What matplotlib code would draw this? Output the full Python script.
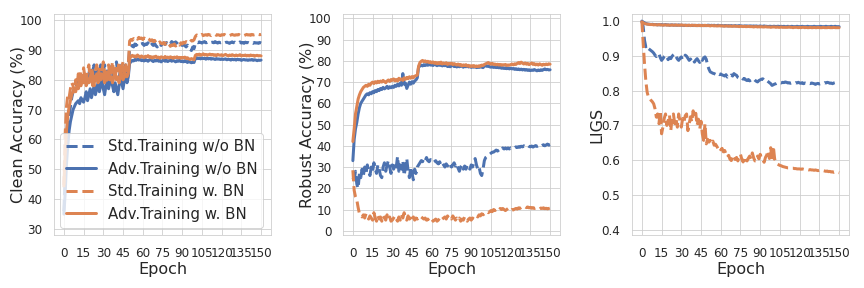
import numpy as np
import matplotlib
matplotlib.use('Agg')
import matplotlib.pyplot as plt
import seaborn as sns

# per-epoch values (epochs 0..150)
epochs = np.arange(151)

# Clean accuracy (%)
clean_std_nobn = [36, 48, 58, 64, 68, 71, 74, 76, 77, 79,
    78, 80, 81, 79, 82, 80, 83, 81, 78, 82,
    84, 80, 83, 85, 81, 79, 84, 82, 85, 80,
    83, 85, 81, 84, 79, 82, 85, 83, 80, 84,
    86, 82, 80, 84, 85, 81, 83, 85, 82, 84,
    90.5, 91, 91.5, 91, 92, 91.5, 92, 92.3, 91.8, 92,
    92.2, 91.5, 92, 91.8, 92.4, 91.6, 91.2, 92, 91.5, 92.2,
    91.4, 91, 91.8, 92.3, 91.5, 92, 92.4, 91.8, 92.5, 92,
    92.6, 92.1, 92.8, 92.4, 92.2, 92.7, 92.3, 91.8, 91.2, 91.9,
    91.5, 92, 91.4, 91, 91.6, 90.8, 90.2, 89.8, 91, 90.4,
    92.2, 92.6, 92.4, 92.7, 92.5, 92.3, 92.6, 92.8, 92.4, 92.5,
    92.7, 92.3, 92.5, 92.6, 92.4, 92.8, 92.5, 92.3, 92.6, 92.4,
    92.5, 92.7, 92.3, 92.5, 92.6, 92.4, 92.2, 92.5, 92.7, 92.4,
    92.6, 92.3, 92.5, 92.4, 92.7, 92.3, 92.5, 92.2, 92.6, 92.4,
    92.5, 92.3, 92.6, 92.4, 92.2, 92.5, 92.3, 92.4, 92.2, 92.5,
    92.3]
clean_adv_nobn = [35, 42, 52, 58, 63, 66, 68, 70, 71, 72,
    72.5, 73, 72, 74, 73, 72.5, 74, 76, 73, 75,
    77, 74, 76, 78, 75, 77, 79, 76, 78, 80,
    77, 75, 78, 80, 77, 79, 81, 78, 76, 79,
    77, 75, 78, 81, 79, 77, 80, 82, 79, 81,
    85.5, 86, 86.5, 86.3, 86.8, 86.5, 87, 86.6, 86.9, 86.4,
    86.7, 86.3, 86.8, 86.5, 86.2, 86.6, 86.9, 86.4, 86.1, 86.5,
    86.3, 86.7, 86.2, 86.5, 86.0, 86.4, 86.6, 86.2, 86.5, 86.1,
    86.4, 86.6, 86.2, 86.5, 86.3, 86.0, 86.4, 86.2, 86.5, 86.1,
    86.3, 86.0, 86.4, 86.1, 85.8, 86.2, 85.9, 85.7, 86.0, 85.8,
    87.2, 87.4, 87.1, 87.3, 87.0, 87.3, 87.1, 87.2, 86.9, 87.2,
    87.0, 87.2, 86.9, 87.1, 87.0, 86.8, 87.1, 86.9, 87.0, 86.8,
    87.0, 86.8, 86.9, 87.0, 86.7, 86.9, 86.8, 86.6, 86.9, 86.7,
    86.8, 86.6, 86.9, 86.7, 86.8, 86.5, 86.7, 86.8, 86.6, 86.7,
    86.5, 86.7, 86.6, 86.8, 86.5, 86.7, 86.6, 86.4, 86.6, 86.5,
    86.6]
clean_std_bn = [44, 62, 71, 75, 74, 77, 79, 78, 76, 80,
    78, 82, 79, 83, 80, 84, 81, 79, 83, 85,
    80, 84, 82, 78, 83, 85, 81, 84, 80, 83,
    86, 82, 79, 84, 85, 81, 83, 86, 82, 80,
    85, 83, 86, 81, 84, 86, 82, 85, 83, 85,
    93, 93.5, 93.2, 93.8, 93.4, 94, 93.6, 94.2, 93.8, 94,
    93.5, 94, 93.7, 93.3, 93.8, 93.5, 93, 93.4, 92.8, 93.2,
    92.5, 92.9, 92.3, 92.7, 92.2, 92, 92.5, 91.8, 92.3, 91.5,
    91.9, 91.2, 91.7, 91.5, 92, 91.3, 91.8, 92.2, 91.6, 92.4,
    92, 92.6, 92.3, 92.8, 92.5, 93, 92.7, 93.2, 93, 93.4,
    94.5, 95, 94.8, 95.1, 94.9, 95.2, 94.8, 95, 95.1, 94.9,
    95.2, 95, 94.8, 95.1, 95, 95.2, 94.9, 95.1, 95, 94.8,
    95.1, 95, 95.2, 94.9, 95, 95.1, 94.8, 95, 95.2, 95,
    94.9, 95.1, 95, 95.2, 94.9, 95, 95.1, 94.8, 95, 95.2,
    95, 95.1, 94.9, 95.2, 95, 95.1, 95.3, 95, 95.2, 95.1,
    95.2]
clean_adv_bn = [45, 55, 63, 68, 71, 73, 75, 76, 77, 76,
    78, 77, 79, 78, 80, 79, 81, 78, 80, 79,
    81, 80, 78, 81, 80, 82, 79, 81, 80, 82,
    81, 79, 81, 80, 82, 80, 81, 79, 81, 82,
    80, 81, 79, 81, 82, 80, 81, 82, 81, 82,
    87, 87.8, 88.2, 87.8, 88, 87.6, 88.3, 87.9, 87.5, 88,
    87.7, 87.4, 87.9, 87.6, 88.1, 87.5, 87.8, 87.3, 87.7, 87.5,
    87.9, 87.4, 87.6, 87.2, 87.7, 87.5, 87.3, 87.8, 87.4, 87.6,
    87.3, 87.7, 87.5, 87.2, 87.6, 87.4, 87.7, 87.3, 87.5, 87.2,
    87.5, 87.3, 87.6, 87.1, 87.4, 87.0, 86.8, 87.1, 86.9, 86.7,
    88.2, 88.5, 88.3, 88.6, 88.2, 88.4, 88.7, 88.3, 88.5, 88.2,
    88.4, 88.6, 88.3, 88.5, 88.2, 88.4, 88.1, 88.5, 88.3, 88.2,
    88.4, 88.1, 88.3, 88.5, 88.2, 88.0, 88.3, 88.1, 88.4, 88.2,
    88.0, 88.3, 88.1, 88.2, 88.4, 88.0, 88.2, 88.1, 88.3, 88.0,
    88.2, 88.0, 88.3, 88.1, 88.2, 87.9, 88.1, 88.2, 88.0, 88.1,
    88.0]

# Robust accuracy (%)
rob_std_nobn = [25, 24, 28, 22, 20, 27, 25, 29, 26, 30,
    27, 31, 28, 26, 30, 28, 32, 29, 27, 31,
    29, 26, 25, 30, 32, 28, 31, 33, 30, 27,
    31, 29, 32, 30, 35, 28, 31, 29, 33, 26,
    30, 34, 28, 25, 30, 27, 24, 29, 27, 30,
    31, 32, 33, 32.5, 34, 33, 34.5, 33, 32.5, 33.5,
    33, 32, 32.5, 33, 32, 31.5, 32.5, 31, 32, 31,
    30, 31.5, 30.5, 32, 31, 30, 31, 32, 30.5, 31.5,
    29.5, 28, 30, 31, 29, 30.5, 29, 31, 30, 29,
    31, 30, 32, 34, 31, 29, 30, 27, 26, 29,
    33, 34.5, 35, 35.5, 36, 36.5, 37, 37, 37.5, 38,
    37.5, 38, 38.5, 38, 39, 38.5, 39, 38.5, 39, 38.5,
    39, 38.8, 39.2, 39, 39.5, 39.2, 39.6, 39.3, 39.8, 39.5,
    40, 39.6, 39.8, 40.2, 39.7, 39.5, 39.9, 39.4, 39.8, 40.1,
    39.7, 40, 40.3, 39.8, 40.2, 40.5, 40, 40.4, 40.8, 40.3,
    40.5]
rob_adv_nobn = [33, 43, 48, 51, 55, 58, 60, 61, 62, 63,
    64, 64.5, 64, 65, 64.5, 65.5, 65, 66, 65.5, 66.5,
    66, 67, 66.5, 67.5, 66.8, 67.2, 68, 67, 67.8, 67.3,
    68, 67.5, 68.5, 68, 69, 68.2, 69.5, 68.5, 74, 69,
    69.5, 67, 68.5, 70, 69, 70.2, 69.5, 70.5, 71, 72,
    77.2, 77.5, 78, 77.6, 78.2, 77.8, 78.3, 77.9, 78.4, 78,
    78.2, 77.8, 78.5, 78.1, 77.7, 78.3, 77.9, 78.2, 77.6, 78,
    77.7, 78.1, 77.3, 77.8, 77.2, 77.6, 78, 77.3, 77.7, 77.1,
    77.5, 77.2, 77.8, 77.4, 77, 77.5, 77.2, 77.6, 77.1, 77.4,
    76.9, 77.3, 77.0, 77.4, 76.8, 77.2, 76.9, 77.3, 77.0, 76.8,
    77.5, 77.8, 77.4, 77.6, 77.2, 77.0, 77.3, 76.9, 77.1, 76.8,
    77.0, 76.7, 76.9, 76.5, 76.8, 76.4, 76.7, 76.3, 76.6, 76.2,
    76.5, 76.2, 76.4, 76.0, 76.3, 75.9, 76.2, 75.8, 76.1, 75.7,
    76.0, 75.6, 75.9, 75.5, 75.8, 75.4, 75.7, 75.5, 75.9, 75.6,
    75.3, 75.7, 75.4, 75.8, 75.5, 75.9, 76.2, 75.8, 76.0, 75.7,
    75.8]
rob_std_bn = [28.5, 19, 16, 14.5, 11, 8, 7, 6.5, 7.5, 6,
    8, 6.5, 5.5, 7, 6, 5, 8.5, 6, 4.5, 7,
    5.5, 6.5, 4.5, 7, 6, 5, 7.5, 5.5, 6.5, 4.5,
    5, 6, 7, 5.5, 4.5, 6.5, 5, 7.5, 6, 8.5,
    6.5, 5, 7, 5.5, 6, 4.5, 6.5, 5, 6, 5.5,
    6, 5.5, 6.5, 6, 5.5, 6, 5, 5.5, 4.5, 5,
    5.5, 4.5, 5, 5.5, 4.5, 5, 6, 5, 5.5, 6,
    6.5, 5.5, 7, 6, 6.5, 5.5, 7, 6, 5, 6,
    5, 6, 4.5, 5.5, 5, 6.5, 5.5, 4.5, 5.5, 6,
    5, 6, 5.5, 6.5, 7, 6.5, 7.5, 7, 8, 7.5,
    8, 8.5, 9, 8.5, 9, 9.5, 9, 10, 9.5, 10,
    10, 9.5, 10.5, 10, 10.5, 10, 9.5, 10, 10.5, 10,
    9.5, 10, 9.8, 10.2, 10.5, 10.2, 10.8, 10.5, 11, 11.2,
    11, 11.3, 10.9, 11.2, 10.8, 11, 10.6, 10.9, 10.5, 10.7,
    10.4, 10.6, 10.3, 10.7, 10.5, 10.8, 10.4, 10.6, 10.3, 10.5,
    10.7]
rob_adv_bn = [42, 48, 55, 58.5, 62, 64, 65.5, 66.5, 67.5, 68,
    68.5, 68, 69, 68.5, 69.5, 70, 69.3, 70.2, 69.6, 70.4,
    69.8, 70.5, 70, 70.8, 70.2, 69.7, 70.5, 71, 70.3, 71.2,
    70.8, 71.5, 70.6, 71.2, 70.5, 71.8, 71, 71.5, 70.8, 72,
    71.3, 72.2, 71.6, 72.5, 71.8, 72.6, 72, 72.8, 73, 73.3,
    77.5, 79.2, 79.8, 80.2, 79.6, 80, 79.4, 79.8, 79.2, 79.6,
    79, 79.5, 78.8, 79.3, 78.6, 79.2, 78.7, 79.4, 78.5, 79,
    78.6, 79.1, 78.3, 78.8, 78.5, 78.9, 78.2, 78.7, 78.4, 78,
    78.5, 77.9, 78.3, 77.6, 78.1, 77.8, 78.2, 77.5, 77.9, 77.3,
    77.7, 77.4, 77.8, 77.2, 77.6, 77.3, 77.7, 77.4, 78, 77.8,
    78.3, 78.6, 78.9, 79.2, 78.7, 78.4, 78.8, 78.3, 78.5, 78.1,
    78.4, 78, 78.3, 77.9, 78.2, 78, 78.3, 77.8, 78.1, 77.9,
    78.2, 78.5, 78.1, 78.6, 78.3, 78.8, 79.2, 78.7, 79.4, 78.9,
    78.5, 79, 78.4, 78.8, 78.2, 78.6, 79, 78.3, 78.7, 78.1,
    78.5, 78, 78.6, 78.2, 77.9, 78.4, 78.1, 78.5, 78.2, 78.6,
    78.4]

# LIGS
ligs_std_nobn = [1.0, 0.984, 0.945, 0.926, 0.93, 0.921, 0.918, 0.915, 0.912, 0.908,
    0.902, 0.898, 0.904, 0.906, 0.895, 0.887, 0.892, 0.898, 0.902, 0.896,
    0.889, 0.895, 0.892, 0.899, 0.903, 0.906, 0.898, 0.891, 0.887, 0.893,
    0.897, 0.889, 0.895, 0.902, 0.899, 0.893, 0.887, 0.891, 0.884, 0.889,
    0.882, 0.888, 0.892, 0.886, 0.881, 0.892, 0.887, 0.894, 0.897, 0.89,
    0.873, 0.862, 0.854, 0.852, 0.85, 0.849, 0.847, 0.851, 0.848, 0.846,
    0.848, 0.845, 0.844, 0.842, 0.846, 0.839, 0.843, 0.841, 0.845, 0.842,
    0.849, 0.846, 0.844, 0.838, 0.836, 0.834, 0.837, 0.833, 0.835, 0.831,
    0.829, 0.832, 0.828, 0.831, 0.834, 0.834, 0.83, 0.827, 0.825, 0.829,
    0.831, 0.833, 0.834, 0.83, 0.827, 0.829, 0.826, 0.823, 0.82, 0.815,
    0.817, 0.819, 0.82, 0.822, 0.821, 0.823, 0.822, 0.824, 0.823, 0.825,
    0.824, 0.822, 0.823, 0.821, 0.822, 0.82, 0.821, 0.823, 0.822, 0.824,
    0.822, 0.821, 0.823, 0.82, 0.822, 0.821, 0.819, 0.821, 0.82, 0.822,
    0.821, 0.82, 0.818, 0.82, 0.821, 0.819, 0.82, 0.822, 0.821, 0.823,
    0.822, 0.824, 0.823, 0.821, 0.822, 0.82, 0.822, 0.823, 0.824, 0.822,
    0.823]
ligs_adv_nobn = [1.0, 0.997, 0.995, 0.993, 0.992, 0.991, 0.991, 0.990, 0.991, 0.990,
    0.990, 0.990, 0.989, 0.990, 0.989, 0.990, 0.989, 0.989, 0.990, 0.989,
    0.989, 0.988, 0.989, 0.989, 0.988, 0.989, 0.988, 0.988, 0.989, 0.988,
    0.988, 0.988, 0.987, 0.988, 0.988, 0.987, 0.988, 0.987, 0.988, 0.987,
    0.988, 0.987, 0.987, 0.988, 0.987, 0.987, 0.988, 0.987, 0.987, 0.987,
    0.988, 0.988, 0.987, 0.988, 0.987, 0.988, 0.987, 0.987, 0.988, 0.987,
    0.987, 0.987, 0.986, 0.987, 0.987, 0.986, 0.987, 0.986, 0.987, 0.986,
    0.986, 0.987, 0.986, 0.986, 0.987, 0.986, 0.986, 0.985, 0.986, 0.986,
    0.986, 0.985, 0.986, 0.986, 0.985, 0.986, 0.985, 0.986, 0.985, 0.985,
    0.986, 0.985, 0.985, 0.986, 0.985, 0.985, 0.984, 0.985, 0.985, 0.984,
    0.985, 0.985, 0.984, 0.985, 0.985, 0.984, 0.985, 0.984, 0.985, 0.984,
    0.984, 0.985, 0.984, 0.984, 0.985, 0.984, 0.984, 0.984, 0.985, 0.984,
    0.984, 0.984, 0.985, 0.984, 0.984, 0.984, 0.985, 0.984, 0.984, 0.984,
    0.984, 0.985, 0.984, 0.984, 0.984, 0.984, 0.985, 0.984, 0.984, 0.984,
    0.985, 0.984, 0.984, 0.984, 0.985, 0.984, 0.984, 0.985, 0.984, 0.984,
    0.984]
ligs_std_bn = [1.0, 0.936, 0.878, 0.829, 0.796, 0.781, 0.778, 0.772, 0.768, 0.762,
    0.748, 0.724, 0.733, 0.705, 0.742, 0.676, 0.695, 0.72, 0.733, 0.7,
    0.714, 0.73, 0.685, 0.722, 0.733, 0.705, 0.718, 0.695, 0.733, 0.712,
    0.695, 0.72, 0.71, 0.728, 0.733, 0.685, 0.705, 0.725, 0.71, 0.742,
    0.722, 0.735, 0.7, 0.718, 0.69, 0.712, 0.675, 0.657, 0.705, 0.647,
    0.66, 0.652, 0.657, 0.648, 0.655, 0.643, 0.646, 0.64, 0.633, 0.638,
    0.63, 0.634, 0.624, 0.628, 0.618, 0.609, 0.614, 0.603, 0.599, 0.608,
    0.614, 0.602, 0.608, 0.598, 0.612, 0.617, 0.603, 0.595, 0.61, 0.6,
    0.598, 0.606, 0.612, 0.603, 0.621, 0.607, 0.598, 0.598, 0.612, 0.604,
    0.617, 0.605, 0.6, 0.594, 0.608, 0.615, 0.627, 0.605, 0.636, 0.598,
    0.64, 0.603, 0.595, 0.589, 0.587, 0.585, 0.584, 0.582, 0.581, 0.58,
    0.579, 0.578, 0.578, 0.577, 0.577, 0.577, 0.576, 0.576, 0.575, 0.575,
    0.575, 0.574, 0.575, 0.574, 0.573, 0.574, 0.573, 0.572, 0.573, 0.572,
    0.572, 0.571, 0.572, 0.571, 0.57, 0.571, 0.57, 0.569, 0.57, 0.569,
    0.568, 0.569, 0.567, 0.568, 0.566, 0.567, 0.565, 0.566, 0.564, 0.565,
    0.564]
ligs_adv_bn = [0.998, 0.995, 0.993, 0.992, 0.991, 0.991, 0.990, 0.990, 0.990, 0.989,
    0.990, 0.989, 0.989, 0.990, 0.989, 0.989, 0.988, 0.989, 0.989, 0.988,
    0.989, 0.988, 0.988, 0.989, 0.988, 0.988, 0.989, 0.988, 0.988, 0.988,
    0.989, 0.988, 0.988, 0.988, 0.987, 0.988, 0.988, 0.987, 0.988, 0.988,
    0.987, 0.988, 0.987, 0.987, 0.988, 0.987, 0.987, 0.987, 0.988, 0.987,
    0.987, 0.987, 0.986, 0.987, 0.987, 0.986, 0.987, 0.986, 0.986, 0.987,
    0.986, 0.986, 0.986, 0.985, 0.986, 0.986, 0.985, 0.986, 0.985, 0.985,
    0.986, 0.985, 0.985, 0.985, 0.984, 0.985, 0.985, 0.984, 0.985, 0.984,
    0.984, 0.985, 0.984, 0.984, 0.984, 0.983, 0.984, 0.984, 0.983, 0.984,
    0.983, 0.984, 0.983, 0.983, 0.984, 0.983, 0.983, 0.983, 0.982, 0.983,
    0.983, 0.983, 0.982, 0.983, 0.982, 0.982, 0.983, 0.982, 0.982, 0.982,
    0.982, 0.982, 0.983, 0.982, 0.982, 0.981, 0.982, 0.982, 0.982, 0.981,
    0.982, 0.981, 0.982, 0.982, 0.981, 0.982, 0.981, 0.981, 0.982, 0.981,
    0.981, 0.982, 0.981, 0.981, 0.982, 0.981, 0.981, 0.981, 0.982, 0.981,
    0.981, 0.981, 0.982, 0.981, 0.981, 0.981, 0.982, 0.981, 0.981, 0.981,
    0.981]

labels = ['Std.Training w/o BN', 'Adv.Training w/o BN',
          'Std.Training w. BN', 'Adv.Training w. BN']
xticks = np.arange(0, 151, 15)

sns.set_style('whitegrid')
blue, orange = sns.color_palette('deep')[0], sns.color_palette('deep')[1]
styles = [(blue, '--'), (blue, '-'), (orange, '--'), (orange, '-')]

panels = [
    ([clean_std_nobn, clean_adv_nobn, clean_std_bn, clean_adv_bn],
     'Clean Accuracy (%)', (28, 102), np.arange(30, 101, 10)),
    ([rob_std_nobn, rob_adv_nobn, rob_std_bn, rob_adv_bn],
     'Robust Accuracy (%)', (-2, 102), np.arange(0, 101, 10)),
    ([ligs_std_nobn, ligs_adv_nobn, ligs_std_bn, ligs_adv_bn],
     'LIGS', (0.385, 1.02), np.arange(0.4, 1.01, 0.1)),
]

fig, axes = plt.subplots(1, 3, figsize=(12, 4), dpi=72)
fig.subplots_adjust(left=0.0625, right=0.9826, top=0.951, bottom=0.184, wspace=0.332)

for ax, (series, ylab, ylim, yticks) in zip(axes, panels):
    for s, (c, ls), lab in zip(series, styles, labels):
        ax.plot(epochs, s, color=c, linestyle=ls, linewidth=3, label=lab)
    ax.set_xticks(xticks)
    ax.set_yticks(yticks)
    if ylab == 'LIGS':
        ax.set_yticklabels(['%.1f' % v for v in yticks])
    ax.set_ylim(*ylim)
    ax.tick_params(labelsize=12, pad=8)
    ax.set_xlabel('Epoch', fontsize=16, labelpad=2)
    ax.set_ylabel(ylab, fontsize=16)
    ax.yaxis.set_label_coords(-0.128, 0.5)

axes[0].legend(loc='lower right', fontsize=15)

plt.savefig('out.png', dpi=72)
